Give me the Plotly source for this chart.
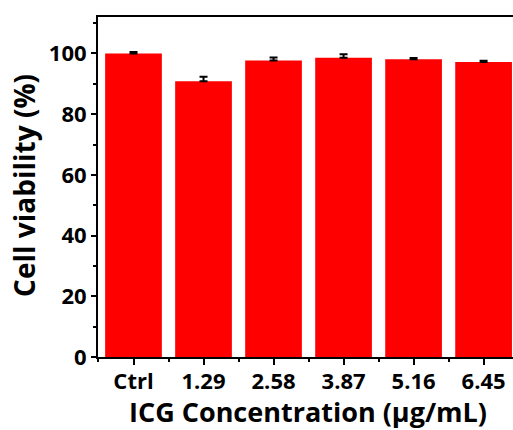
import plotly.graph_objects as go

categories = ["Ctrl", "1.29", "2.58", "3.87", "5.16", "6.45"]
viability = [100.0, 90.8, 97.7, 98.6, 98.1, 97.2]
errors = [0.5, 1.5, 1.0, 1.1, 0.4, 0.4]
y_ticks = [0, 20, 40, 60, 80, 100]
x_title = "ICG Concentration (μg/mL)"
y_title = "Cell viability (%)"

FONT = "Open Sans"

fig = go.Figure()
fig.add_trace(go.Bar(
    x=list(range(len(categories))),
    y=viability,
    width=0.81,
    marker=dict(color="#FF0000", line=dict(width=0)),
    error_y=dict(type="data", array=errors, arrayminus=[0] * len(errors),
                 symmetric=False, color="black", thickness=2, width=4),
))

fig.update_layout(
    width=513, height=430,
    margin=dict(l=98, r=0, t=17, b=73),
    paper_bgcolor="white", plot_bgcolor="white",
    showlegend=False,
    font=dict(family=FONT, color="black"),
)
fig.update_xaxes(
    range=[-0.507, 5.42],
    tickmode="array", tickvals=list(range(len(categories))), ticktext=categories,
    ticks="outside", ticklen=6, tickwidth=2, tickcolor="black",
    ticklabelstandoff=-2,
    showline=True, linecolor="black", linewidth=2, mirror=True,
    showgrid=False, zeroline=False,
    tickfont=dict(family=FONT, size=22, color="black", weight=700),
    minor=dict(tickvals=[i + 0.5 for i in range(-1, 6)], ticks="outside",
               ticklen=3, tickwidth=2, tickcolor="black"),
)
fig.update_yaxes(
    range=[0, 112],
    tickmode="array", tickvals=y_ticks,
    ticks="outside", ticklen=5, tickwidth=2, tickcolor="black",
    showline=True, linecolor="black", linewidth=2, mirror=False,
    showgrid=False, zeroline=False,
    tickfont=dict(family=FONT, size=22, color="black", weight=700),
    minor=dict(tickvals=[10, 30, 50, 70, 90, 110], ticks="outside",
               ticklen=3, tickwidth=2, tickcolor="black"),
)

fig.add_annotation(
    text=x_title, xref="paper", yref="paper", x=0.507, y=-0.160,
    xanchor="center", yanchor="middle", showarrow=False, borderpad=0,
    font=dict(family=FONT, size=27, color="black", weight=700),
)
fig.add_annotation(
    text=y_title, xref="paper", yref="paper", x=-0.180, y=0.504,
    xanchor="center", yanchor="middle", showarrow=False, textangle=-90,
    font=dict(family=FONT, size=28, color="black", weight=700),
)

fig.write_html(
    "out.html",
    config={"displayModeBar": False},
    post_script="document.body.style.margin='0';document.body.style.overflow='hidden';",
)
